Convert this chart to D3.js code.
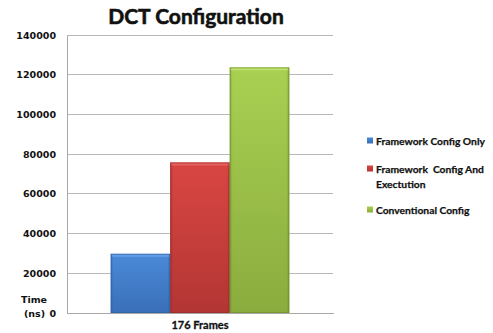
<!DOCTYPE html>
<html><head><meta charset="utf-8">
<script src="https://cdn.jsdelivr.net/npm/d3@7"></script>
<style>body{margin:0;background:#fff}svg{display:block}</style>
</head><body><svg id="c" width="493" height="333"></svg>
<script>
const categories = ["176 Frames"];
const seriesNames = ["Framework Config Only", "Framework  Config And Exectution", "Conventional Config"];
const seriesValues = [[29800], [75800], [123700]];
const yTicks = [0, 20000, 40000, 60000, 80000, 100000, 120000, 140000];
const title = "DCT Configuration";
const yTitle = ["Time", "(ns)"];

const svg = d3.select("#c");
const m = {l: 67, r: 333, t: 35, b: 313};
const y = d3.scaleLinear().domain([0, 140000]).range([m.b, m.t]);
const x0 = d3.scaleBand().domain(categories).range([m.l, m.r]);
const x1 = d3.scaleBand().domain(d3.range(seriesNames.length)).range([0, x0.bandwidth()]).paddingOuter(0.735);

const colors = [
  {top:"#4a8ad8", bot:"#3a6fb8", edge:"#2f5f9f", light:"#6aa2e6"},
  {top:"#d94642", bot:"#b33634", edge:"#922b2a", light:"#e86a66"},
  {top:"#a9d052", bot:"#8aac3e", edge:"#6f8c30", light:"#c2e274"}
];
const defs = svg.append("defs");
colors.forEach((c,i)=>{
  const g = defs.append("linearGradient").attr("id","g"+i).attr("x1",0).attr("y1",0).attr("x2",0).attr("y2",1);
  g.append("stop").attr("offset","0").attr("stop-color",c.top);
  g.append("stop").attr("offset","1").attr("stop-color",c.bot);
  const h = defs.append("linearGradient").attr("id","h"+i).attr("x1",0).attr("y1",0).attr("x2",1).attr("y2",0);
  h.append("stop").attr("offset","0").attr("stop-color",c.edge).attr("stop-opacity",0.5);
  h.append("stop").attr("offset","0.05").attr("stop-color",c.edge).attr("stop-opacity",0);
  h.append("stop").attr("offset","0.95").attr("stop-color",c.edge).attr("stop-opacity",0);
  h.append("stop").attr("offset","1").attr("stop-color",c.edge).attr("stop-opacity",0.6);
});

// gridlines
svg.append("g").selectAll("line").data(yTicks.filter(d=>d>0)).join("line")
  .attr("x1", m.l).attr("x2", m.r).attr("y1", d=>y(d)).attr("y2", d=>y(d))
  .attr("stroke", "#b8b8b8").attr("stroke-width", 1).attr("shape-rendering","crispEdges");

// axes
const yAxis = d3.axisLeft(y).tickValues(yTicks).tickSize(0).tickPadding(11).tickFormat(d3.format("d"));
const ya = svg.append("g").attr("transform", `translate(${m.l},0)`).call(yAxis);
ya.select(".domain").attr("stroke","#a8a8a8").attr("shape-rendering","crispEdges");
ya.selectAll("text").attr("font-family","DejaVu Sans").attr("font-weight","bold").attr("font-size","9.5px").attr("fill","#111");

const xAxis = d3.axisBottom(x0).tickSize(0).tickPadding(8);
const xa = svg.append("g").attr("transform", `translate(0,${m.b})`).call(xAxis);
xa.select(".domain").attr("stroke","#a8a8a8").attr("shape-rendering","crispEdges");
xa.selectAll("text").attr("font-family","Lato").attr("font-weight","bold").attr("font-size","11px").attr("fill","#111")
  .attr("stroke","#111").attr("stroke-width",0.3);

// bars
const bars = svg.append("g");
categories.forEach((cat, ci)=>{
  seriesValues.forEach((vals, si)=>{
    const bx = x0(cat) + x1(si), bw = x1.bandwidth(), by = y(vals[ci]), bh = y(0) - y(vals[ci]);
    bars.append("rect").attr("x",bx).attr("y",by).attr("width",bw).attr("height",bh).attr("fill",`url(#g${si})`);
    bars.append("rect").attr("x",bx).attr("y",by).attr("width",bw).attr("height",bh).attr("fill",`url(#h${si})`);
    bars.append("rect").attr("x",bx+1).attr("y",by).attr("width",bw-2).attr("height",3).attr("fill",colors[si].light).attr("opacity",0.8);
    bars.append("rect").attr("x",bx+0.5).attr("y",by+0.5).attr("width",bw-1).attr("height",bh-1).attr("fill","none").attr("stroke",colors[si].edge).attr("stroke-opacity",0.6);
  });
});

// title
svg.append("text").attr("x", 196).attr("y", 24).attr("text-anchor","middle")
  .attr("font-family","Lato").attr("font-weight","bold").attr("font-size","21px").attr("fill","#111")
  .attr("stroke","#111").attr("stroke-width",0.6).text(title);

// y title
svg.append("text").attr("x", 47).attr("y", 303).attr("text-anchor","end")
  .attr("font-family","DejaVu Sans").attr("font-weight","bold").attr("font-size","9.5px").attr("fill","#111").text(yTitle[0]);
svg.append("text").attr("x", 45).attr("y", 317).attr("text-anchor","end")
  .attr("font-family","DejaVu Sans").attr("font-weight","bold").attr("font-size","9.5px").attr("fill","#111").text(yTitle[1]);

// legend
const legY = [141, 169, 210];
const lg = svg.append("g");
seriesNames.forEach((name, i)=>{
  lg.append("rect").attr("x",367).attr("y",legY[i]-3.5).attr("width",6).attr("height",6).attr("fill",`url(#g${i})`);
  const words = i===1 ? ["Framework  Config And","Exectution"] : [name];
  words.forEach((w, j)=>{
    lg.append("text").attr("x",376).attr("y",legY[i]+j*15).attr("dy","0.35em")
      .attr("font-family","Lato").attr("font-weight","bold").attr("font-size","11px").attr("fill","#111")
      .attr("stroke","#111").attr("stroke-width",0.25)
      .attr("xml:space","preserve").style("white-space","pre").text(w);
  });
});
// scale legend font so first entry spans ~109px as in the reference
const first = lg.select("text").node();
const len = first.getComputedTextLength();
if (len > 0) {
  const fs = Math.min(12, 11 * 109 / len);
  lg.selectAll("text").attr("font-size", fs + "px");
}
</script></body></html>
